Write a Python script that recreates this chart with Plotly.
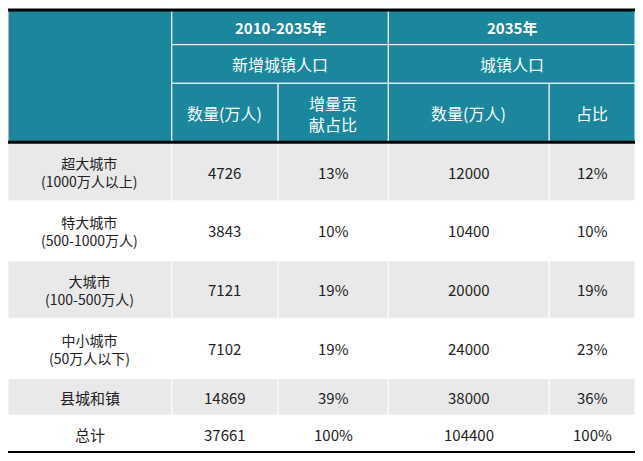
import plotly.graph_objects as go

categories = ["超大城市<br>(1000万人以上)", "特大城市<br>(500-1000万人)", "大城市<br>(100-500万人)",
              "中小城市<br>(50万人以下)", "县城和镇", "总计"]
new_pop = ["4726", "3843", "7121", "7102", "14869", "37661"]
new_share = ["13%", "10%", "19%", "19%", "39%", "100%"]
pop_2035 = ["12000", "10400", "20000", "24000", "38000", "104400"]
share_2035 = ["12%", "10%", "19%", "23%", "36%", "100%"]

W, H = 643, 461
cols = [0, 168, 277, 390, 555, 643]
rows = [140, 200, 262, 322, 384, 422, 461]
TEAL = "#1a879c"
FONT = "Noto Sans CJK SC"

shapes, ann = [], []

def rect(x0, y0, x1, y1, fill, line="white", w=1):
    shapes.append(dict(type="rect", x0=x0, x1=x1, y0=y0, y1=y1, fillcolor=fill,
                       line=dict(color=line, width=w), layer="below"))

def text(x, y, t, size=16, color="#222", bold=False):
    ann.append(dict(x=x, y=y, text=f"<b>{t}</b>" if bold else t, showarrow=False,
                    font=dict(family=FONT, size=size, color=color), align="center"))

# header
rect(0, 2, cols[1], 140, TEAL)
rect(cols[1], 2, cols[3], 38, TEAL)
rect(cols[3], 2, W, 38, TEAL)
rect(cols[1], 38, cols[3], 78, TEAL)
rect(cols[3], 38, W, 78, TEAL)
for i in range(1, 5):
    rect(cols[i], 78, cols[i + 1], 140, TEAL)
text((cols[1] + cols[3]) / 2, 20, "2010-2035年", 15, "white", True)
text((cols[3] + W) / 2, 20, "2035年", 15, "white", True)
text((cols[1] + cols[3]) / 2, 58, "新增城镇人口", 16, "white")
text((cols[3] + W) / 2, 58, "城镇人口", 16, "white")
for i, t in enumerate(["数量(万人)", "增量贡<br>献占比", "数量(万人)", "占比"]):
    text((cols[i + 1] + cols[i + 2]) / 2, 109, t, 16, "white")

# body
for r, cat in enumerate(categories):
    fill = "#e9e9ea" if r % 2 == 0 else "white"
    y0, y1 = rows[r], rows[r + 1]
    for c in range(5):
        rect(cols[c], y0, cols[c + 1], y1, fill, "white", 1)
    ym = (y0 + y1) / 2
    vals = [cat, new_pop[r], new_share[r], pop_2035[r], share_2035[r]]
    for c, v in enumerate(vals):
        text((cols[c] + cols[c + 1]) / 2, ym, v, 14 if c == 0 and "<br>" in v else 15)

shapes.append(dict(type="line", x0=0, x1=W, y0=2, y1=2, line=dict(color="black", width=3)))
shapes.append(dict(type="line", x0=0, x1=W, y0=139, y1=139, line=dict(color="black", width=3)))
shapes.append(dict(type="line", x0=0, x1=W, y0=460, y1=460, line=dict(color="black", width=2)))

fig = go.Figure()
fig.update_layout(
    width=627, height=445, margin=dict(l=0, r=0, t=0, b=0),
    paper_bgcolor="white", plot_bgcolor="white",
    xaxis=dict(range=[0, W], visible=False, fixedrange=True),
    yaxis=dict(range=[H, 0], visible=False, fixedrange=True),
    shapes=shapes, annotations=ann, showlegend=False,
)
fig.write_html("out.html")
